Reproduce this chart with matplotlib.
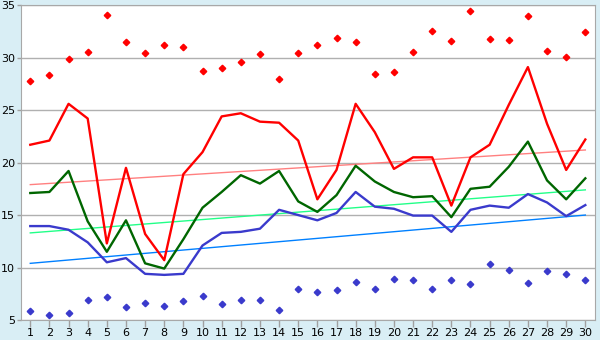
import matplotlib
matplotlib.use('Agg')
import matplotlib.pyplot as plt

days = list(range(1, 31))

red_line = [21.7, 22.1, 25.6, 24.2, 12.3, 19.5, 13.2, 10.7, 18.9, 21.0,
            24.4, 24.7, 23.9, 23.8, 22.1, 16.5, 19.3, 25.6, 22.9, 19.4,
            20.5, 20.5, 15.9, 20.5, 21.7, 25.5, 29.1, 23.7, 19.3, 22.2]
green_line = [17.1, 17.2, 19.2, 14.4, 11.5, 14.5, 10.4, 9.9, 12.7, 15.7,
              17.2, 18.8, 18.0, 19.2, 16.3, 15.3, 16.9, 19.7, 18.2, 17.2,
              16.7, 16.8, 14.8, 17.5, 17.7, 19.6, 22.0, 18.3, 16.5, 18.5]
blue_line = [13.95, 13.95, 13.6, 12.4, 10.5, 10.9, 9.4, 9.3, 9.4, 12.1,
             13.3, 13.4, 13.7, 15.5, 15.0, 14.5, 15.2, 17.2, 15.8, 15.6,
             14.95, 14.95, 13.4, 15.5, 15.9, 15.7, 17.0, 16.2, 14.9, 15.95]
red_dots = [27.8, 28.3, 29.9, 30.5, 34.1, 31.45, 30.4, 31.25, 31.0, 28.7,
            29.0, 29.55, 30.3, 28.0, 30.4, 31.2, 31.9, 31.45, 28.4, 28.6,
            30.5, 32.5, 31.55, 34.4, 31.8, 31.7, 34.0, 30.6, 30.1, 32.4]
blue_dots = [5.9, 5.45, 5.65, 6.9, 7.15, 6.2, 6.6, 6.3, 6.8, 7.25,
             6.5, 6.95, 6.95, 6.0, 8.0, 7.65, 7.85, 8.6, 8.0, 8.95,
             8.8, 8.0, 8.8, 8.4, 10.3, 9.75, 8.5, 9.65, 9.35, 8.8]

# trend lines, start (day 1) and end (day 30) values
trend_x = [1, 30]
red_trend = [17.9, 21.2]
green_trend = [13.3, 17.4]
blue_trend = [10.4, 15.0]

bg = '#d9eef5'
fig = plt.figure(figsize=(6, 3.4), dpi=100, facecolor=bg)
ax = fig.add_axes([0.0345, 0.0588, 0.957, 0.926])
ax.set_facecolor('white')

ax.plot(trend_x, red_trend, color='#ff8080', lw=1, zorder=2)
ax.plot(trend_x, green_trend, color='#22ff88', lw=1, zorder=2)
ax.plot(trend_x, blue_trend, color='#0080ff', lw=1, zorder=2)

ax.plot(days, red_line, color='#ff0000', lw=1.7, zorder=3)
ax.plot(days, green_line, color='#006600', lw=1.7, zorder=3)
ax.plot(days, blue_line, color='#3a3acc', lw=1.7, zorder=3)
ax.plot(days, red_dots, ls='none', marker='D', ms=3.3, color='#ff0000', zorder=4)
ax.plot(days, blue_dots, ls='none', marker='D', ms=3.3, color='#3a3acc', zorder=4)

ax.set_xlim(0.5, 30.5)
ax.set_ylim(5, 35)
ax.set_xticks(days)
ax.set_yticks(range(5, 36, 5))
ax.yaxis.grid(True, color='#b0b0b0', lw=1)
ax.set_axisbelow(True)
for s in ax.spines.values():
    s.set_color('#a8a8a8')
ax.tick_params(axis='both', labelsize=8, colors='#a0a0a0', labelcolor='black', width=1)
ax.tick_params(axis='x', length=5, pad=1)
ax.tick_params(axis='y', length=3, pad=1)

fig.savefig('out.png', dpi=100, facecolor=bg)
